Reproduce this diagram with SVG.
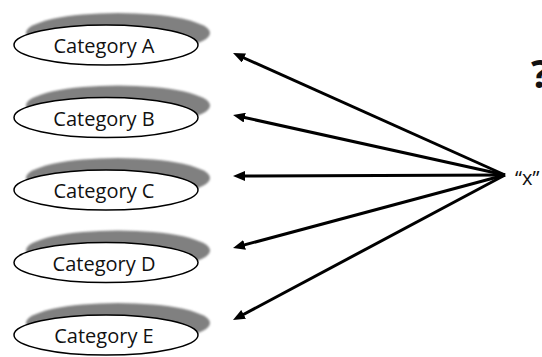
<svg xmlns="http://www.w3.org/2000/svg" width="542" height="357" viewBox="0 0 542 357">
<defs>
<style>
.sh{fill:#808080;filter:url(#blur)}
.el{fill:#fff;stroke:#000;stroke-width:1.5}
.lbl{font-family:"Open Sans","Liberation Sans",sans-serif;font-size:20px;fill:#111;text-anchor:middle}
.ar{stroke:#000;stroke-width:3;fill:none;marker-end:url(#ah)}
</style>
<filter id="blur" x="-10%" y="-30%" width="120%" height="160%"><feGaussianBlur stdDeviation="0.8"/></filter>
<marker id="ah" viewBox="0 0 12 10" refX="6" refY="5" markerWidth="12" markerHeight="10" orient="auto" markerUnits="userSpaceOnUse">
<path d="M0,0 L12,5 L0,10 z" fill="#000"/>
</marker>
</defs>
<rect width="542" height="357" fill="#fff"/>
<g id="catA"><ellipse class="sh" cx="118" cy="33" rx="92" ry="20"/><ellipse class="el" cx="106" cy="45" rx="92" ry="20"/><text class="lbl" x="104" y="53">Category A</text></g>
<g id="catB"><ellipse class="sh" cx="118" cy="105.5" rx="92" ry="20"/><ellipse class="el" cx="106" cy="117.5" rx="92" ry="20"/><text class="lbl" x="104" y="125.5">Category B</text></g>
<g id="catC"><ellipse class="sh" cx="118" cy="178" rx="92" ry="20"/><ellipse class="el" cx="106" cy="190" rx="92" ry="20"/><text class="lbl" x="104" y="198">Category C</text></g>
<g id="catD"><ellipse class="sh" cx="118" cy="250.5" rx="92" ry="20"/><ellipse class="el" cx="106" cy="262.5" rx="92" ry="20"/><text class="lbl" x="104" y="270.5">Category D</text></g>
<g id="catE"><ellipse class="sh" cx="118" cy="323" rx="92" ry="20"/><ellipse class="el" cx="106" cy="335" rx="92" ry="20"/><text class="lbl" x="104" y="343">Category E</text></g>
<g id="connectors">
<line class="ar" x1="505" y1="175" x2="238.5" y2="55.5"/>
<line class="ar" x1="505" y1="175" x2="238.9" y2="116.3"/>
<line class="ar" x1="505" y1="175" x2="239" y2="176"/>
<line class="ar" x1="505" y1="175" x2="238.8" y2="246.4"/>
<line class="ar" x1="505" y1="175" x2="238.3" y2="317.2"/>
</g>
<g id="x"><text x="515" y="185" style="font-family:'Open Sans','Liberation Sans',sans-serif;font-size:20px;fill:#111">“x”</text></g>
<g id="q"><text x="531" y="88" style="font-family:'Open Sans','Liberation Sans',sans-serif;font-size:40px;font-weight:bold;fill:#111">?</text></g>
</svg>
